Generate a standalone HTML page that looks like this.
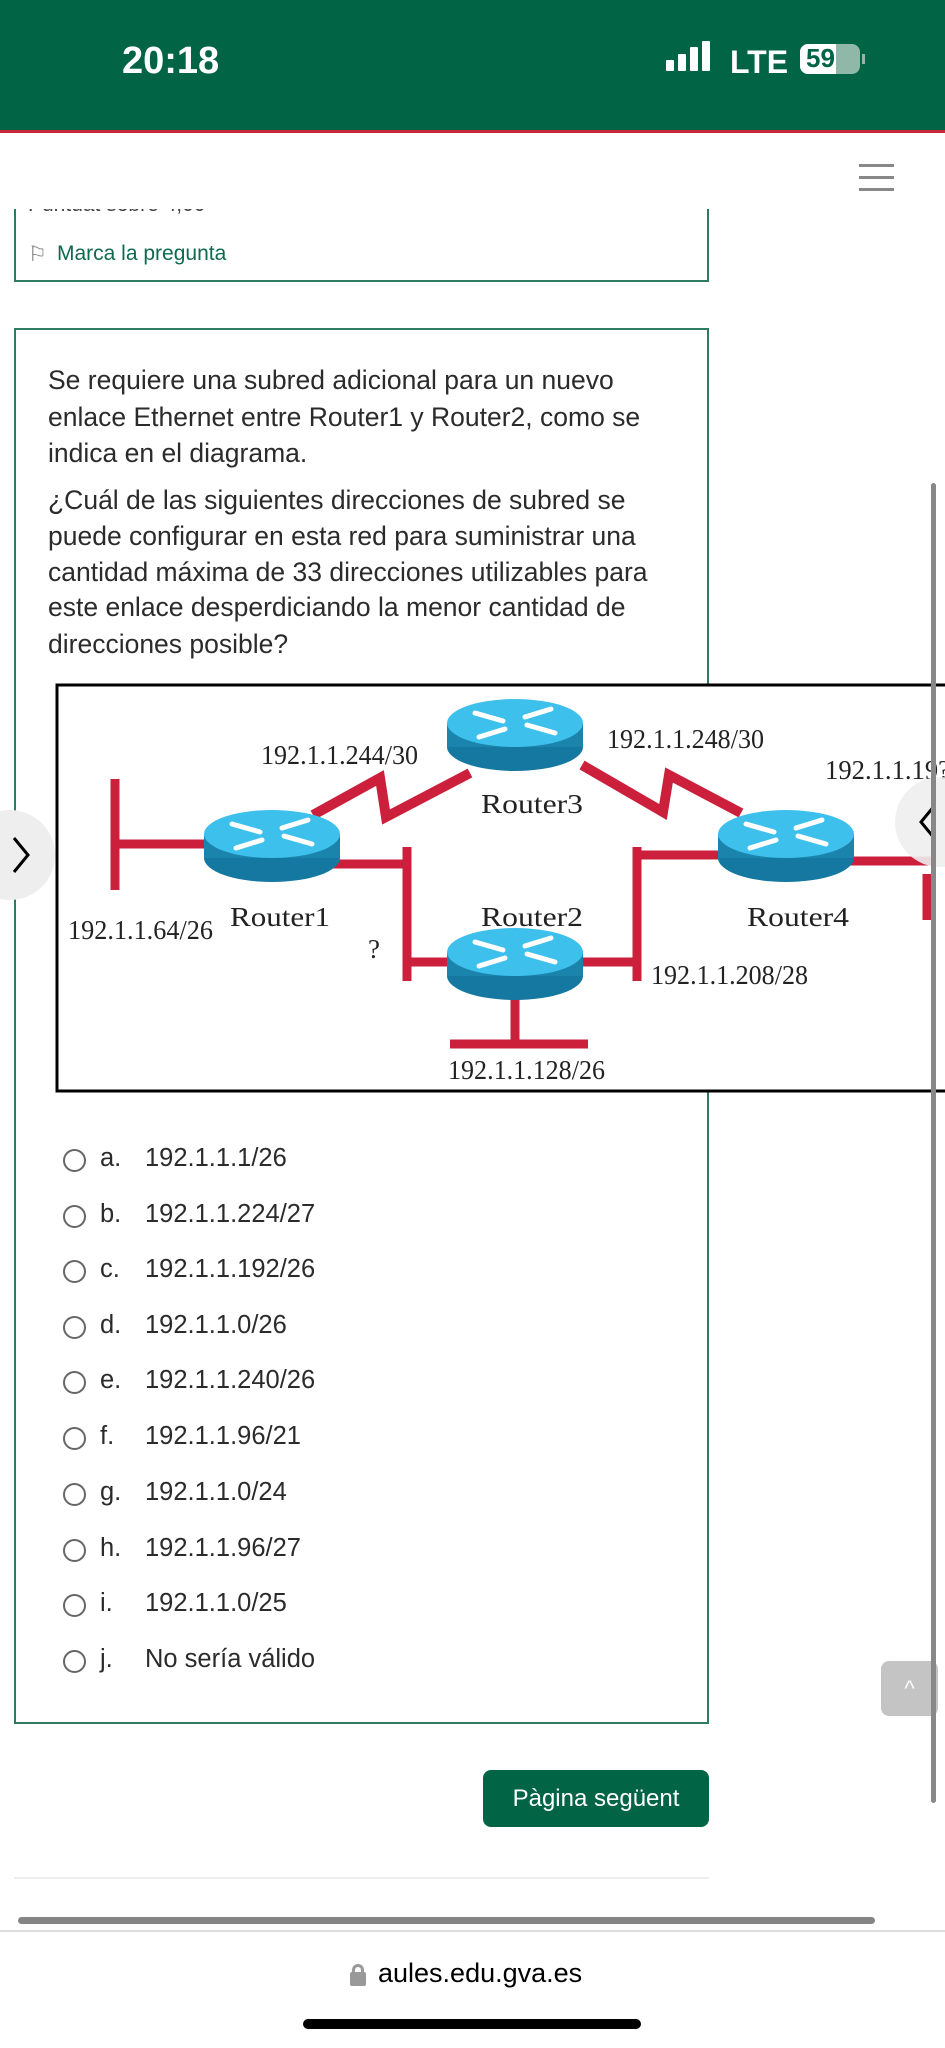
<!DOCTYPE html>
<html><head><meta charset="utf-8"><style>
*{margin:0;padding:0;box-sizing:border-box}
body{width:945px;height:2048px;position:relative;overflow:hidden;background:#fff;font-family:"Liberation Sans",sans-serif;color:#333}
.abs{position:absolute;white-space:nowrap}
.q{font-size:26.5px;color:#2b2b2b;left:48px}
.opt{left:0;font-size:25.5px;color:#2b2b2b}
.circ{position:absolute;left:63px;width:23px;height:23px;border:2px solid #666;border-radius:50%}
.let{position:absolute;left:100px}
.val{position:absolute;left:145px}
</style></head><body>
<div class="abs" style="left:0;top:0;width:945px;height:130px;background:#006445"></div>
<div class="abs" style="left:0;top:130px;width:945px;height:3px;background:#c8283a"></div>
<div class="abs" style="left:122px;top:40px;font-size:38px;font-weight:bold;color:#fff">20:18</div>
<div class="abs" style="left:666px;top:60px;width:8px;height:11px;background:#fff;border-radius:1px"></div>
<div class="abs" style="left:678px;top:54px;width:8px;height:17px;background:#fff;border-radius:1px"></div>
<div class="abs" style="left:690px;top:47px;width:8px;height:24px;background:#fff;border-radius:1px"></div>
<div class="abs" style="left:702px;top:41px;width:8px;height:30px;background:#fff;border-radius:1px"></div>
<div class="abs" style="left:730px;top:44px;font-size:32px;font-weight:bold;color:#fff">LTE</div>
<div class="abs" style="left:800px;top:44px;width:60px;height:30px;background:#8fb8a8;border-radius:8px"></div>
<div class="abs" style="left:800px;top:44px;width:36px;height:30px;background:#fff;border-radius:8px 0 0 8px"></div>
<div class="abs" style="left:806px;top:43px;font-size:26px;font-weight:bold;color:#006445">59</div>
<div class="abs" style="left:862px;top:54px;width:3px;height:10px;background:#8fb8a8"></div>
<div class="abs" style="left:859px;top:164px;width:35px;height:3px;background:#888"></div>
<div class="abs" style="left:859px;top:176px;width:35px;height:3px;background:#888"></div>
<div class="abs" style="left:859px;top:188px;width:35px;height:3px;background:#888"></div>

<div class="abs" style="left:14px;top:209px;width:695px;height:73px;border:2px solid #2e7a62;border-top:none"></div>
<div class="abs" style="left:28px;top:209px;height:10px;overflow:hidden;font-size:21px;color:#444"><div style="margin-top:-16px">Puntuat sobre 4,00</div></div>
<div class="abs" style="left:28px;top:242px;font-size:21px;color:#777">⚐</div>
<div class="abs" style="left:57px;top:242px;font-size:21px;color:#0e6a4e">Marca la pregunta</div>

<div class="abs" style="left:14px;top:328px;width:695px;height:1396px;border:2px solid #2e7a62"></div>
<div class="abs q" style="top:365px">Se requiere una subred adicional para un nuevo</div>
<div class="abs q" style="top:402px">enlace Ethernet entre Router1 y Router2, como se</div>
<div class="abs q" style="top:438px">indica en el diagrama.</div>
<div class="abs q" style="top:485px">¿Cuál de las siguientes direcciones de subred se</div>
<div class="abs q" style="top:521px">puede configurar en esta red para suministrar una</div>
<div class="abs q" style="top:557px">cantidad máxima de 33 direcciones utilizables para</div>
<div class="abs q" style="top:592px">este enlace desperdiciando la menor cantidad de</div>
<div class="abs q" style="top:629px">direcciones posible?</div>

<svg class="abs" style="left:0;top:0" width="945" height="2048">
<defs>
<g id="rt">
<ellipse cx="0" cy="14" rx="68" ry="24" fill="#1478a0"/>
<rect x="-68" y="-10" width="136" height="24" fill="#1b84ad"/>
<ellipse cx="0" cy="-10" rx="68" ry="24" fill="#3ec0ec"/>
<g stroke="#fff" stroke-width="5" stroke-linecap="round" fill="none">
<path d="M-40,-20 L-12,-12"/><path d="M40,0 L12,-8"/>
<path d="M-36,4 L-10,-4"/><path d="M36,-24 L10,-16"/>
</g>
</g>
</defs>
<rect x="57" y="685" width="900" height="406" fill="#fff" stroke="#000" stroke-width="3"/>
<g stroke="#cc1f3c" stroke-width="9" fill="none">
<path d="M115,779 V890 M115,844 H205"/>
<path d="M330,864 H407 M407,847 V981 M407,962 H450"/>
<path d="M580,962 H637 M637,847 V981 M637,855 H720"/>
<path d="M850,861 H933 M927,874 V920"/>
<path d="M515,998 V1044 M450,1044 H588"/>
<path d="M313,815 L380,778 L386,817 L470,773" stroke-width="10"/>
<path d="M582,765 L663,812 L669,775 L741,813" stroke-width="10"/>
</g>
<use href="#rt" x="515" y="733"/>
<use href="#rt" x="272" y="844"/>
<use href="#rt" x="786" y="844"/>
<use href="#rt" x="515" y="962"/>
<g font-family="Liberation Serif,serif" font-size="27" fill="#222" lengthAdjust="spacingAndGlyphs">
<text x="261" y="764" textLength="157" lengthAdjust="spacingAndGlyphs">192.1.1.244/30</text>
<text x="607" y="748" textLength="157" lengthAdjust="spacingAndGlyphs">192.1.1.248/30</text>
<text x="825" y="779" textLength="125" lengthAdjust="spacingAndGlyphs">192.1.1.19?</text>
<text x="481" y="813" textLength="102" lengthAdjust="spacingAndGlyphs">Router3</text>
<text x="230" y="926" textLength="100" lengthAdjust="spacingAndGlyphs">Router1</text>
<text x="481" y="926" textLength="102" lengthAdjust="spacingAndGlyphs">Router2</text>
<text x="747" y="926" textLength="102" lengthAdjust="spacingAndGlyphs">Router4</text>
<text x="68" y="939" textLength="145" lengthAdjust="spacingAndGlyphs">192.1.1.64/26</text>
<text x="368" y="958">?</text>
<text x="651" y="984" textLength="157" lengthAdjust="spacingAndGlyphs">192.1.1.208/28</text>
<text x="448" y="1079" textLength="157" lengthAdjust="spacingAndGlyphs">192.1.1.128/26</text>
</g>
<circle cx="10" cy="855" r="45" fill="#eee"/>
<path d="M14,838 L28,855 L14,872" stroke="#000" stroke-width="3" fill="none"/>
<circle cx="940" cy="822" r="45" fill="#eee" opacity="0.9"/>
<path d="M935,805 L921,822 L935,839" stroke="#000" stroke-width="3" fill="none"/>
</svg>

<div class="abs opt" style="top:1144px;width:945px"><div class="circ" style="top:5px"></div><span class="let">a.</span><span class="val">192.1.1.1/26</span></div>
<div class="abs opt" style="top:1200px;width:945px"><div class="circ" style="top:5px"></div><span class="let">b.</span><span class="val">192.1.1.224/27</span></div>
<div class="abs opt" style="top:1255px;width:945px"><div class="circ" style="top:5px"></div><span class="let">c.</span><span class="val">192.1.1.192/26</span></div>
<div class="abs opt" style="top:1311px;width:945px"><div class="circ" style="top:5px"></div><span class="let">d.</span><span class="val">192.1.1.0/26</span></div>
<div class="abs opt" style="top:1366px;width:945px"><div class="circ" style="top:5px"></div><span class="let">e.</span><span class="val">192.1.1.240/26</span></div>
<div class="abs opt" style="top:1422px;width:945px"><div class="circ" style="top:5px"></div><span class="let">f.</span><span class="val">192.1.1.96/21</span></div>
<div class="abs opt" style="top:1478px;width:945px"><div class="circ" style="top:5px"></div><span class="let">g.</span><span class="val">192.1.1.0/24</span></div>
<div class="abs opt" style="top:1534px;width:945px"><div class="circ" style="top:5px"></div><span class="let">h.</span><span class="val">192.1.1.96/27</span></div>
<div class="abs opt" style="top:1589px;width:945px"><div class="circ" style="top:5px"></div><span class="let">i.</span><span class="val">192.1.1.0/25</span></div>
<div class="abs opt" style="top:1645px;width:945px"><div class="circ" style="top:5px"></div><span class="let">j.</span><span class="val">No sería válido</span></div>

<div class="abs" style="left:881px;top:1661px;width:57px;height:55px;background:#c4c4c4;border-radius:8px;color:#fff;font-size:22px;text-align:center;line-height:55px">^</div>
<div class="abs" style="left:931px;top:483px;width:5px;height:1320px;background:#888;border-radius:3px"></div>

<div class="abs" style="left:483px;top:1770px;width:226px;height:57px;background:#006445;border-radius:8px;color:#fff;font-size:24px;text-align:center;line-height:57px">Pàgina següent</div>
<div class="abs" style="left:14px;top:1877px;width:695px;height:2px;background:#eee"></div>
<div class="abs" style="left:18px;top:1917px;width:857px;height:7px;background:#858585;border-radius:4px"></div>
<div class="abs" style="left:0;top:1930px;width:945px;height:2px;background:#ddd"></div>
<div class="abs" style="left:352px;top:1964px;width:12px;height:12px;border:3px solid #999;border-bottom:none;border-radius:6px 6px 0 0"></div>
<div class="abs" style="left:350px;top:1972px;width:16px;height:14px;background:#999;border-radius:2px"></div>
<div class="abs" style="left:378px;top:1958px;font-size:27px;color:#000">aules.edu.gva.es</div>
<div class="abs" style="left:303px;top:2019px;width:338px;height:10px;background:#000;border-radius:5px"></div>
</body></html>
